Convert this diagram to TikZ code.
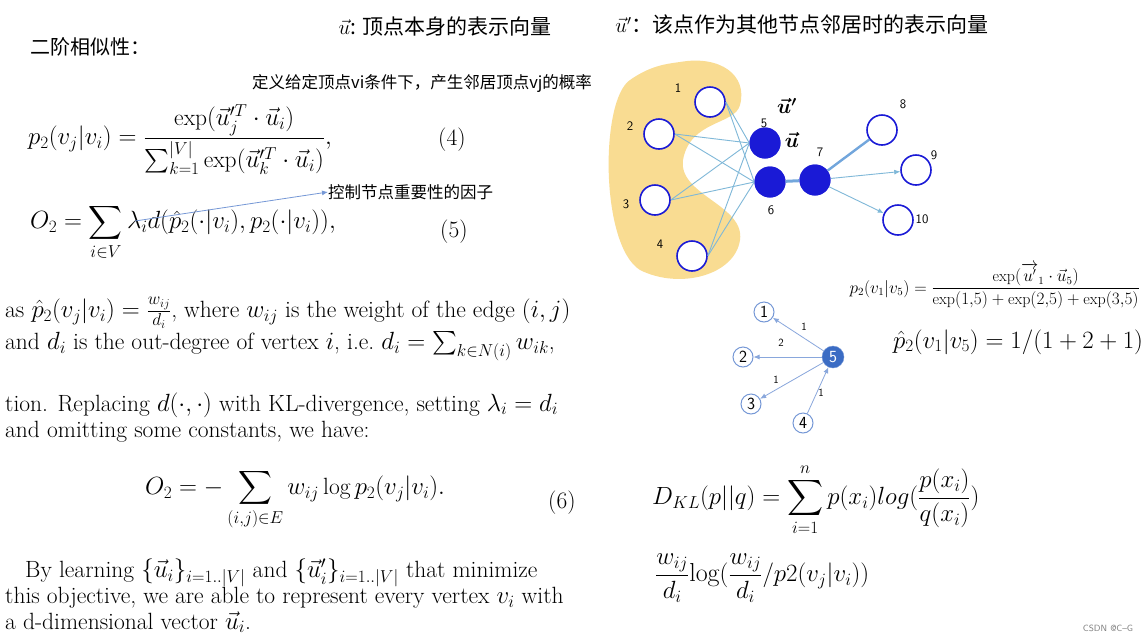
\documentclass[tikz,border=0pt]{standalone}
\usepackage{amsmath,amssymb}
\usepackage{fontspec}
\newfontfamily\cjk{Noto Sans CJK SC}
\usetikzlibrary{arrows.meta}
\definecolor{nb}{HTML}{1A1AD6}
\definecolor{eb}{HTML}{7FB8D8}
\definecolor{yb}{HTML}{F9DC92}
\definecolor{sb}{HTML}{3B6CC4}
\tikzset{
 txt/.style={inner sep=0pt,anchor=west,font=\fontsize{23.5}{28}\selectfont},
 cn/.style={inner sep=0pt,font=\cjk\fontsize{18}{22}\selectfont},
 onode/.style={circle,draw=nb,line width=1.6pt,minimum size=30pt,inner sep=0pt,fill=white},
 fnode/.style={circle,fill=nb,minimum size=31pt,inner sep=0pt},
 lab/.style={inner sep=0pt,font=\sffamily\fontsize{13}{14}\selectfont},
 ed/.style={draw=eb,line width=0.9pt},
 sn/.style={circle,draw=sb!70,line width=1pt,minimum size=20pt,inner sep=0pt,fill=white,font=\sffamily\fontsize{17}{18}\selectfont},
 se/.style={draw=sb!60,line width=0.8pt,-{Latex[length=6pt,width=5pt]}},
 sl/.style={inner sep=0pt,font=\sffamily\fontsize{11}{12}\selectfont}
}
\begin{document}
\begin{tikzpicture}[x=1pt,y=-1pt]
\useasboundingbox[fill=white] (0,0) rectangle (1144,641);
% headings
\node[cn,anchor=west,font=\cjk\fontsize{20}{24}\selectfont] (t1) at (30,47) {二阶相似性：};
\node[cn,font=\cjk\fontsize{21}{24}\selectfont] (t2) at (445,27) {$\vec{u}$: 顶点本身的表示向量};
\node[cn,font=\cjk\fontsize{21}{24}\selectfont] (t3) at (802,25) {$\vec{u}'$：该点作为其他节点邻居时的表示向量};
\node[cn,font=\cjk\fontsize{16.5}{20}\selectfont] (t4) at (422,84) {定义给定顶点vi条件下，产生邻居顶点vj的概率};
% eq 4
\node[txt] (e4) at (28,140) {$p_2(v_j|v_i)=\dfrac{\exp(\vec{u}_j'^{T}\cdot\vec{u}_i)}{\sum_{k=1}^{|V|}\exp(\vec{u}_k'^{T}\cdot\vec{u}_i)},$};
\node[txt] (n4) at (438,140) {(4)};
\node[txt] (e5) at (30,232) {$O_2=\displaystyle\sum_{i\in V}\lambda_i d(\hat{p}_2(\cdot|v_i),p_2(\cdot|v_i)),$};
\node[txt] (n5) at (440,232) {(5)};
\node[cn,anchor=west,font=\cjk\fontsize{16.5}{20}\selectfont] (fac) at (328,192) {控制节点重要性的因子};
\coordinate (fs) at (135,221);
\draw[draw=sb!70,line width=0.8pt,-{Latex[length=6pt,width=5pt]}] (fs) -- (fac.west);
% body text
\node[txt] (l1) at (5,313) {as $\hat{p}_2(v_j|v_i)=\frac{w_{ij}}{d_i}$, where $w_{ij}$ is the weight of the edge $(i,j)$};
\node[txt] (l2) at (5,346) {and $d_i$ is the out-degree of vertex $i$, i.e.\ $d_i=\sum_{k\in N(i)}w_{ik}$,};
\node[txt] (l3) at (5,405) {tion. Replacing $d(\cdot,\cdot)$ with KL-divergence, setting $\lambda_i=d_i$};
\node[txt] (l4) at (5,432) {and omitting some constants, we have:};
\node[txt] (e6) at (145,500) {$O_2=-\displaystyle\sum_{(i,j)\in E}w_{ij}\log p_2(v_j|v_i).$};
\node[txt] (n6) at (548,503) {(6)};
\node[txt] (l5) at (25,573) {By learning $\{\vec{u}_i\}_{i=1..|V|}$ and $\{\vec{u}_i'\}_{i=1..|V|}$ that minimize};
\node[txt] (l6) at (5,598) {this objective, we are able to represent every vertex $v_i$ with};
\node[txt] (l7) at (5,622) {a d-dimensional vector $\vec{u}_i$.};
% graph
\fill[yb] (680,62) .. controls (720,55) and (748,75) .. (740,105)
 .. controls (735,125) and (690,120) .. (683,160)
 .. controls (678,195) and (745,205) .. (740,240)
 .. controls (735,275) and (680,290) .. (640,270)
 .. controls (600,245) and (600,100) .. (630,80)
 .. controls (650,66) and (665,64) .. (680,62) -- cycle;
\node[onode] (a1) at (710,102) {};
\node[onode] (a2) at (659,134) {};
\node[onode] (a3) at (655,200) {};
\node[onode] (a4) at (692,256) {};
\node[fnode] (a5) at (765,143) {};
\node[fnode] (a6) at (770,182) {};
\node[fnode] (a7) at (815,180) {};
\node[onode] (a8) at (882,130) {};
\node[onode] (a9) at (916,170) {};
\node[onode] (a10) at (898,220) {};
\foreach \s in {a1,a2,a3,a4}{\foreach \t in {a5,a6}{\draw[ed] (\s.east) -- (\t.west);}}
\node[fnode] at (a5) {};
\node[fnode] at (a6) {};
\draw[draw=eb!90!blue,line width=3pt] (a6) -- (a7);
\draw[draw=eb!90!blue,line width=2.4pt] (a7) -- (a8);
\draw[ed,-{Latex[length=6pt,width=5pt]}] (a7) -- (a9);
\draw[ed,-{Latex[length=6pt,width=5pt]}] (a7) -- (a10);
\node[fnode] at (a7) {};
\node[lab] at (678,88) {1};
\node[lab] at (630,126) {2};
\node[lab] at (626,204) {3};
\node[lab] at (660,244) {4};
\node[lab] at (764,123) {5};
\node[lab] at (771,210) {6};
\node[lab] at (820,152) {7};
\node[lab] at (903,104) {8};
\node[lab] at (934,155) {9};
\node[lab] at (922,219) {10};
\node[inner sep=0pt,font=\fontsize{20}{22}\selectfont] (up) at (787,106) {$\boldsymbol{\vec{u}'}$};
\node[inner sep=0pt,font=\fontsize{20}{22}\selectfont] (uu) at (792,140) {$\boldsymbol{\vec{u}}$};
% right formulas
\node[inner sep=0pt,anchor=east,font=\fontsize{16}{18}\selectfont] (pf) at (1140,286) {$p_2(v_1|v_5)=\dfrac{\exp(\overrightarrow{u'}_1\cdot\vec{u}_5)}{\exp(1{,}5)+\exp(2{,}5)+\exp(3{,}5)}$};
\node[inner sep=0pt,anchor=west,font=\fontsize{25.5}{28}\selectfont] (ph) at (893,342) {$\hat{p}_2(v_1|v_5)=1/(1+2+1)$};
% small graph
\node[sn] (b1) at (764,312) {1};
\node[sn] (b2) at (743,357) {2};
\node[sn] (b3) at (751,404) {3};
\node[sn] (b4) at (803,423) {4};
\node[circle,fill=sb,draw=sb!70,minimum size=22pt,inner sep=0pt,text=white,font=\sffamily\fontsize{17}{18}\selectfont] (b5) at (833,357) {5};
\draw[se] (b5) -- (b1);
\draw[se] (b5) -- (b2);
\draw[se] (b5) -- (b3);
\draw[se] (b4) -- (b5);
\node[sl] at (804,327) {1};
\node[sl] at (781,343) {2};
\node[sl] at (776,380) {1};
\node[sl] at (821,393) {1};
\node[txt,font=\fontsize{25}{28}\selectfont] (dkl) at (652,500) {$D_{KL}(p||q)=\displaystyle\sum_{i=1}^{n}p(x_i)log(\frac{p(x_i)}{q(x_i)})$};
\node[txt,font=\fontsize{26}{28}\selectfont] (wl) at (655,578) {$\dfrac{w_{ij}}{d_i}\mathrm{log}(\dfrac{w_{ij}}{d_i}/p2(v_j|v_i))$};
\node[inner sep=0pt,text=gray,font=\sffamily\fontsize{9}{10}\selectfont] (cs) at (1108,628) {CSDN @C--G};
\end{tikzpicture}
\end{document}
